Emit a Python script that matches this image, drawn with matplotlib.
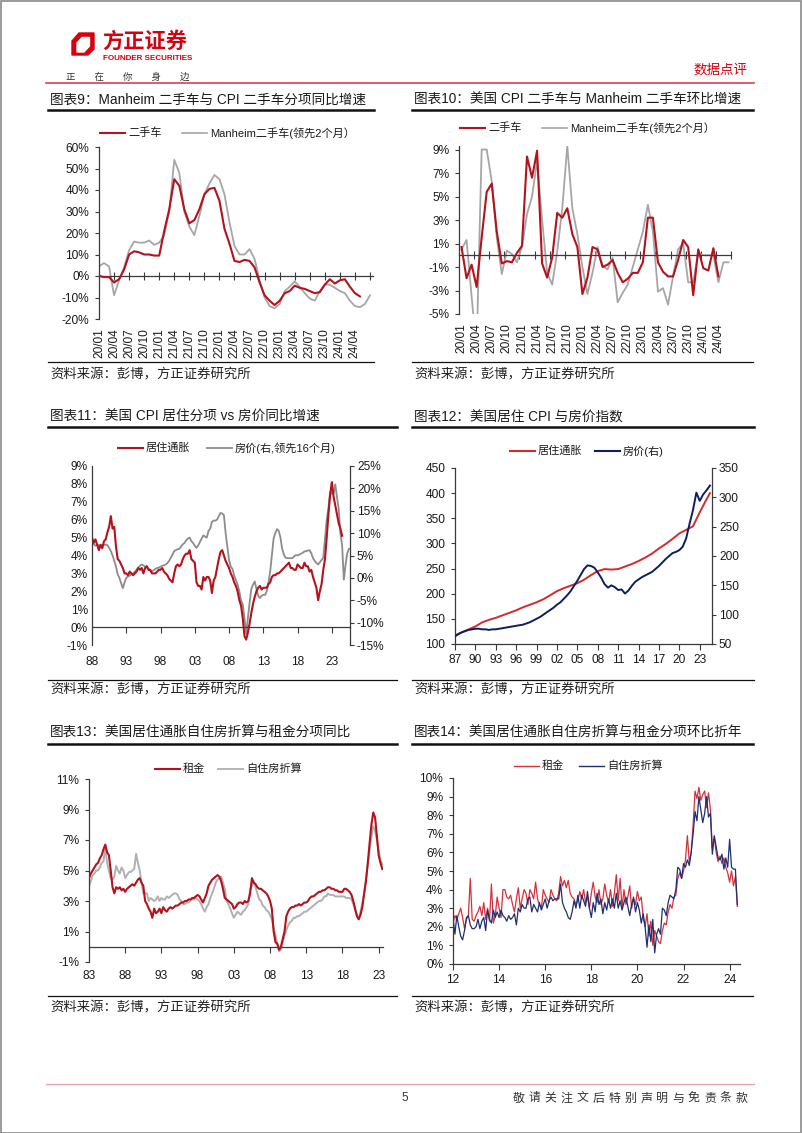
import numpy as np
import matplotlib
matplotlib.use('Agg')
import matplotlib.pyplot as plt
from matplotlib.lines import Line2D
from matplotlib.patches import Polygon, Rectangle
from matplotlib.ticker import FuncFormatter

plt.rcParams['font.family'] = ['Liberation Sans', 'Noto Sans CJK SC']
plt.rcParams['axes.unicode_minus'] = False

# ---------------- data ----------------
# chart 9: used car yoy (%), monthly 20/01 ..
labels9 = ['20/01', '20/04', '20/07', '20/10', '21/01', '21/04', '21/07', '21/10', '22/01',
           '22/04', '22/07', '22/10', '23/01', '23/04', '23/07', '23/10', '24/01', '24/04']
cpi_used_yoy = [0, -0.5, -0.5, -3, -1.5, 3, 10, 11.5, 11, 10, 10, 9.5, 9.5, 21, 31, 45, 42, 31,
                24.5, 26, 31, 38, 40.5, 41, 35, 22, 15, 7, 6.5, 7.5, 7, 4, -3, -9, -11.5, -13.5,
                -11.5, -8, -7, -4.5, -5.5, -6, -7, -8, -7.5, -4, -1.5, -3.5, -2, -1.5, -5, -8, -9.5]
manheim_yoy = [4.5, 6, 4.5, -9, -2, 4, 12, 16, 15.5, 15.5, 16.5, 14.5, 15.5, 19, 30, 54, 48, 30,
               23, 19, 28, 38, 43, 47, 45, 38, 25, 14, 10, 10, 12.5, 8, -2, -10, -14, -15,
               -13, -7, -5, -2.5, -5, -8, -10.5, -11.5, -7, -4, -4, -5.5, -7, -8, -11.5, -14, -14.5,
               -13, -9]

# chart 10: used car mom (%)
labels10 = labels9
cpi_used_mom = [0.7, -1.95, -0.8, -2.7, 1.5, 5.4, 6.1, 2.0, -0.7, -0.5, -0.6, 0.2, 0.8, 8.4, 6.6,
                8.9, -0.7, -1.9, -0.2, 3.6, 3.2, 4.0, 1.8, 0.7, -3.3, -1.9, 0.7, 0.5, -1.0, -0.8,
                -0.4, -1.5, -2.3, -2.0, -1.5, -1.5, -0.6, 3.2, 3.2, -0.6, -1.4, -1.8, -1.8, -0.4,
                1.3, 0.7, -3.4, 0.5, -1.1, -1.3, 0.6, -1.8]
manheim_mom = [0.5, 1.3, -3.5, -8.0, 9.0, 9.0, 6.3, 1.5, -1.6, 0.4, 0.1, -0.6, 0.7, 3.5, 5.0, 8.0,
               3.0, -1.5, -2.5, 0.3, 4.0, 9.3, 4.0, 1.8, -1.0, -3.3, -1.5, 0.7, -0.9, -1.2, -0.2,
               -4.0, -3.2, -2.5, -1.0, 0.5, 2.0, 4.3, 2.0, -3.1, -2.8, -4.2, -1.8, 0.5, 1.0, -2.3,
               -2.3, 0.2, 0.0, 0.0, 0.0, -2.3, -0.6, -0.6]

# chart 11: shelter yoy (left, quarterly from 1988) vs house price yoy (right, lead 16m)
labels11 = ['88', '93', '98', '03', '08', '13', '18', '23']
shelter_yoy = [5.0, 4.7, 4.9, 4.6, 4.3, 4.6, 4.4, 4.8, 4.9, 5.3, 5.6, 6.2, 5.5, 5.6, 4.5, 3.8,
               3.7, 3.5, 3.3, 3.0, 3.0, 2.9, 3.1, 3.0, 2.9, 3.0, 3.1, 3.3, 3.2, 3.3, 3.0, 3.3,
               3.4, 3.2, 3.2, 3.0, 3.0, 3.0, 3.1, 3.2, 3.2, 3.3, 3.1, 3.0, 2.9, 2.7, 2.6, 2.5,
               3.0, 3.4, 3.5, 3.4, 3.5, 3.8, 4.0, 4.1, 4.1, 4.3, 3.8, 3.7, 3.6, 2.5, 2.3, 2.3,
               2.1, 2.8, 2.6, 2.8, 2.8, 2.6, 1.9, 2.6, 2.8, 3.3, 3.8, 4.2, 4.3, 4.0, 3.7, 3.5,
               3.3, 3.0, 2.8, 2.5, 2.3, 2.0, 1.5, 1.2, 0.5, -0.5, -0.7, -0.3, 0.2, 0.8, 1.3, 1.7,
               2.0, 2.2, 2.3, 2.1, 2.2, 2.2, 2.2, 2.4, 2.5, 2.8, 2.9, 2.9, 3.0, 3.0, 3.1, 3.2,
               3.3, 3.4, 3.5, 3.6, 3.3, 3.3, 3.2, 3.2, 3.5, 3.4, 3.3, 3.3, 3.6, 3.4, 3.4, 3.1,
               3.2, 2.8, 2.5, 2.2, 1.5, 2.0, 2.4, 3.2, 3.8, 5.0, 6.3, 7.4, 8.1, 7.3, 6.8, 6.3,
               5.8, 5.5, 5.1]
house_yoy_lead = [7.7, 7.5, 7.2, 7.4, 7.3, 7.0, 7.3, 7.4, 7.4, 7.3, 6.7, 6.0, 5.0, 3.8, 2.5, 0.8,
                  0.0, -1.2, -2.3, -1.0, 0.0, 0.3, 0.5, 0.8, 1.0, 1.4, 1.8, 2.3, 2.7, 3.0, 2.8, 2.5,
                  2.5, 2.0, 1.6, 1.5, 1.7, 2.0, 2.2, 2.3, 2.5, 2.7, 2.8, 3.0, 3.3, 3.8, 4.5, 5.2,
                  6.0, 6.2, 6.4, 6.5, 7.0, 7.5, 7.8, 8.4, 8.8, 9.0, 8.2, 7.8, 7.2, 6.7, 7.3, 8.0,
                  8.8, 9.5, 9.2, 9.0, 10.5, 11.0, 12.5, 12.8, 12.8, 13.0, 13.8, 14.5, 14.4, 14.0, 10.0, 7.0,
                  4.0, 2.5, 2.0, 0.5, -0.5, -1.5, -3.0, -5.0, -6.0, -9.0, -12.5, -9.0, -5.5, -2.5, -1.5, -0.8,
                  -2.5, -4.0, -4.5, -4.0, -3.8, -3.8, -3.0, -1.0, 1.4, 5.0, 8.8, 10.0, 10.9, 10.5, 9.0, 6.5,
                  5.2, 4.5, 4.4, 4.4, 4.4, 4.4, 4.8, 5.1, 5.0, 5.2, 5.4, 5.6, 5.9, 6.0, 6.1, 6.2,
                  5.5, 4.4, 3.8, 3.3, 3.0, 3.5, 4.0, 4.5, 8.8, 13.0, 15.5, 19.2, 18.8, 18.8, 20.9, 18.0,
                  15.5, 10.0, 7.3, -0.4, 2.9, 5.5, 6.5]

# chart 12: shelter CPI index (left) and house price index (right)
labels12 = ['87', '90', '93', '96', '99', '02', '05', '08', '11', '14', '17', '20', '23']
shelter_years = [1987, 1988, 1989, 1990, 1991, 1992, 1993, 1994, 1995, 1996, 1997, 1998, 1999,
                 2000, 2001, 2002, 2003, 2004, 2005, 2006, 2007, 2008, 2009, 2010, 2011, 2012,
                 2013, 2014, 2015, 2016, 2017, 2018, 2019, 2020, 2021, 2022, 2023, 2024, 2024.5]
shelter_idx = [117, 123, 129, 135, 143, 148, 152, 157, 162, 167, 173, 178, 183, 189, 197, 205, 211,
               216, 221, 228, 237, 245, 249, 248, 249, 254, 259, 265, 272, 280, 290, 299, 309, 320,
               327, 334, 362, 388, 400]
house_idx = [63, 67, 70, 72, 74, 75, 76, 76, 75, 75, 74, 75, 75, 76, 77, 78, 79, 80, 81, 82, 83,
             85, 87, 90, 93, 96, 100, 104, 108, 112, 117, 121, 127, 133, 140, 149, 158, 168, 178,
             184, 183, 180, 172, 163, 152, 146, 150, 147, 142, 143, 136, 141, 149, 156, 160, 164,
             167, 170, 173, 178, 183, 189, 195, 200, 205, 207, 210, 216, 230, 255, 278, 308, 294,
             305, 312, 320]

# chart 13: rent vs OER yoy (%), quarterly from 1983
labels13 = ['83', '88', '93', '98', '03', '08', '13', '18', '23']
rent_yoy = [4.5, 4.8, 5.0, 5.2, 5.4, 5.5, 5.8, 6.0, 6.4, 6.7, 6.2, 6.0, 5.0, 3.9, 3.5, 3.9,
            3.8, 3.9, 3.7, 3.8, 3.6, 3.8, 3.9, 4.0, 4.1, 4.0, 4.2, 4.4, 4.5, 4.2, 4.0, 3.0,
            2.8, 2.5, 2.3, 1.9, 2.5, 2.2, 2.3, 2.5, 2.2, 2.6, 2.4, 2.3, 2.5, 2.6, 2.5, 2.6,
            2.7, 2.7, 2.8, 2.9, 2.9, 3.0, 3.0, 3.1, 3.1, 3.2, 3.2, 3.3, 3.4, 3.3, 3.1, 2.9,
            3.2, 3.5, 4.0, 4.2, 4.4, 4.5, 4.6, 4.7, 4.6, 4.3, 3.8, 3.2, 3.1, 3.0, 2.9, 2.8,
            2.5, 2.6, 2.8, 2.9, 2.9, 2.8, 3.0, 2.9, 3.0, 3.5, 4.5, 4.2, 4.1, 3.9, 3.8, 3.8,
            3.7, 3.6, 3.5, 3.3, 3.0, 2.5, 1.0, 0.3, 0.2, -0.2, 0.0, 0.5, 1.0, 2.0, 2.3, 2.5,
            2.6, 2.6, 2.7, 2.7, 2.8, 2.7, 2.8, 2.9, 2.9, 3.0, 3.2, 3.3, 3.3, 3.4, 3.5, 3.6,
            3.6, 3.7, 3.7, 3.8, 3.9, 3.9, 3.8, 3.8, 3.7, 3.7, 3.6, 3.6, 3.6, 3.8, 3.8, 3.7,
            3.6, 3.4, 3.0, 2.5, 2.0, 1.8, 2.1, 2.6, 3.5, 4.3, 5.5, 6.8, 8.0, 8.8, 8.5, 7.3,
            6.0, 5.5, 5.1]
oer_yoy = [4.0, 4.3, 4.7, 4.8, 5.0, 5.0, 5.2, 5.5, 5.6, 6.5, 5.5, 5.0, 4.5, 4.4, 4.6, 5.3,
           5.0, 4.8, 5.2, 5.0, 4.5, 4.7, 4.9, 4.9, 5.0, 5.1, 6.1, 5.5, 5.0, 4.2, 3.5, 3.5,
           3.5, 3.0, 3.2, 3.1, 3.0, 3.1, 3.3, 3.0, 3.2, 3.1, 3.1, 3.3, 3.2, 3.3, 3.4, 3.5,
           3.5, 3.4, 3.1, 3.0, 2.8, 2.8, 2.9, 2.9, 3.0, 3.1, 3.1, 3.2, 3.1, 3.0, 2.8, 2.5,
           2.3, 2.6, 2.8, 3.2, 3.5, 3.8, 4.2, 4.4, 4.5, 4.6, 4.2, 3.8, 3.0, 2.8, 2.5, 2.2,
           1.9, 2.1, 2.3, 2.2, 2.1, 2.3, 2.4, 2.6, 2.8, 3.8, 4.0, 4.3, 3.9, 3.5, 3.1, 3.0,
           2.7, 2.6, 2.4, 2.3, 2.1, 1.8, 1.2, 0.8, 0.2, -0.3, -0.2, 0.3, 0.7, 1.1, 1.4, 1.6,
           1.7, 1.9, 1.9, 2.0, 2.0, 2.1, 2.2, 2.3, 2.3, 2.4, 2.5, 2.6, 2.7, 2.8, 2.9, 3.0,
           3.0, 3.1, 3.3, 3.3, 3.5, 3.4, 3.4, 3.4, 3.3, 3.3, 3.3, 3.3, 3.3, 3.3, 3.2, 3.2,
           3.2, 3.1, 2.8, 2.4, 2.1, 1.8, 2.3, 2.9, 3.5, 4.5, 5.4, 6.3, 7.2, 7.9, 7.6, 7.0,
           6.3, 5.7, 5.4]

# chart 14: rent vs OER mom annualized (%), monthly from 2012/01
labels14 = ['12', '14', '16', '18', '20', '22', '24']
rent_mom_ann = [2.2, 2.6, 2.4, 2.7, 3.0, 2.5, 1.9, 2.4, 2.6, 4.6, 2.4, 2.3,
                2.6, 2.8, 3.1, 2.6, 3.3, 2.4, 3.0, 2.3, 4.3, 2.2, 2.6, 3.6,
                3.0, 2.5, 4.0, 4.0, 3.6, 3.5, 3.7, 3.2, 2.8, 3.5, 4.1, 3.0,
                3.5, 4.0, 3.8, 3.2, 4.0, 3.8, 3.5, 4.4, 3.5, 3.2, 3.0, 4.0,
                3.7, 3.5, 3.3, 4.0, 3.7, 3.5, 3.4, 3.8, 4.7, 4.2, 4.5, 4.1,
                4.5, 3.8, 3.6, 3.5, 3.2, 3.4, 3.9, 3.5, 4.0, 3.3, 3.6, 3.0,
                3.8, 4.4, 3.6, 3.3, 4.0, 3.2, 3.5, 4.3, 3.7, 3.3, 4.0, 3.1,
                3.8, 4.8, 3.4, 4.6, 3.0, 4.0, 3.2, 3.6, 4.2, 3.0, 3.5, 3.2,
                3.9, 3.4, 3.6, 2.5, 2.0, 2.7, 1.5, 2.3, 1.0, 1.8, 1.5, 1.2,
                1.1, 1.8, 2.2, 2.1, 2.8, 3.2, 3.0, 3.6, 3.7, 4.6, 4.9, 4.6,
                5.0, 5.6, 6.9, 5.5, 6.0, 7.5, 9.3, 8.9, 9.5, 8.8, 9.1, 9.3,
                8.4, 9.2, 8.3, 6.2, 6.8, 6.0, 5.5, 5.8, 5.4, 5.7, 5.2, 4.9,
                4.4, 5.0, 4.2, 4.7, 3.1]
oer_mom_ann = [2.5, 1.6, 2.6, 2.0, 1.5, 1.3, 1.8, 2.5, 2.6, 2.1, 1.9, 1.9,
               2.0, 2.4, 1.9, 2.3, 2.5, 1.8, 2.9, 2.4, 2.2, 2.9, 2.5, 2.8,
               2.5, 2.9, 2.6, 2.5, 2.3, 2.6, 2.4, 2.5, 2.7, 2.1, 3.0, 2.8,
               3.2, 3.0, 3.0, 3.5, 3.6, 2.8, 3.2, 3.0, 2.8, 3.3, 2.9, 3.2,
               3.5, 3.0, 3.4, 3.6, 3.4, 3.5, 3.5, 3.5, 4.3, 3.3, 3.0, 2.8,
               2.5, 2.4, 2.8, 3.4, 3.0, 3.7, 3.0, 3.7, 3.4, 3.1, 3.9, 3.0,
               2.5, 3.3, 2.8, 3.8, 3.2, 3.5, 2.7, 3.3, 2.9, 3.5, 3.0, 3.5,
               3.0, 3.8, 3.0, 3.4, 2.9, 3.3, 3.6, 3.1, 2.6, 3.2, 3.6, 2.8,
               3.3, 2.9, 2.2, 2.7, 2.0, 0.9, 2.1, 1.2, 2.4, 0.6, 1.6, 1.9,
               1.6, 3.0, 2.9, 2.6, 3.3, 3.7, 3.6, 3.5, 4.0, 5.2, 5.1, 4.6,
               5.4, 5.2, 5.6, 5.3, 6.0, 7.0, 8.2, 7.7, 9.0, 8.3, 7.6, 8.1,
               9.0, 7.9, 8.1, 5.9, 6.9, 6.3, 5.7, 5.6, 5.9, 5.1, 5.7, 5.2,
               6.7, 5.2, 5.1, 5.1, 3.2]

# ---------------- layout helpers ----------------
W, H = 802, 1133
fig = plt.figure(figsize=(W / 100, H / 100), dpi=100)

RED = '#b4121c'
GRAY = '#a6a6a6'
TXT = '#1a1a1a'
AX = '#3a3a3a'
TICK_FS = 8.6
LEG_FS = 8


def box(l, t, r, b):
    return [l / W, 1 - b / H, (r - l) / W, (b - t) / H]


def hline(x0, x1, y, color, lw):
    fig.add_artist(Line2D([x0 / W, x1 / W], [1 - y / H, 1 - y / H], color=color, lw=lw,
                          transform=fig.transFigure))


def text(x, y, s, **kw):
    kw.setdefault('va', 'center')
    kw.setdefault('color', TXT)
    fig.text(x / W, 1 - y / H, s, **kw)


def legend_item(x, y, color, label, lw=1.5):
    fig.add_artist(Line2D([x / W, (x + 25) / W], [1 - y / H, 1 - y / H], color=color, lw=lw,
                          transform=fig.transFigure))
    text(x + 28, y, label, fontsize=LEG_FS)


def frame(x0, x1, y_title, y_rule, y_rule2, y_src, title):
    text(x0 + 2, y_title, title, fontsize=9.8)
    hline(x0, x1, y_rule, '#111111', 1.8)
    hline(x0, x1, y_rule2, '#111111', 0.9)
    text(x0 + 2, y_src, '资料来源：彭博，方正证券研究所', fontsize=9.6, color='#222222')


pct = FuncFormatter(lambda v, p: f'{v:.0f}%')


def base_style(ax):
    for s in ['top', 'right']:
        ax.spines[s].set_visible(False)
    for s in ['left', 'bottom']:
        ax.spines[s].set_color(AX)
        ax.spines[s].set_linewidth(0.9)
    ax.patch.set_visible(False)
    ax.tick_params(axis='y', direction='out', length=3, width=0.8, color=AX, pad=4,
                   labelsize=TICK_FS, labelcolor=TXT)


def right_style(axr):
    for s in ['top', 'left', 'bottom']:
        axr.spines[s].set_visible(False)
    axr.spines['right'].set_color(AX)
    axr.spines['right'].set_linewidth(0.9)
    axr.tick_params(axis='y', direction='out', length=3, width=0.8, color=AX, pad=2,
                    labelsize=TICK_FS, labelcolor=TXT)


def zero_axis(ax, major, lab_pos, labels, rotate, pad, tick_dir='inout', tick_len=6):
    ax.spines['bottom'].set_position(('data', 0))
    ax.set_xticks(major)
    ax.tick_params(axis='x', direction=tick_dir, length=tick_len, width=0.8, color=AX,
                   labelbottom=False)
    sec = ax.secondary_xaxis('bottom')
    sec.spines['bottom'].set_visible(False)
    sec.set_xticks(lab_pos, labels)
    sec.tick_params(length=0, pad=pad, labelsize=TICK_FS, labelcolor=TXT)
    if rotate:
        plt.setp(sec.get_xticklabels(), rotation=90)
    return sec


# ---------------- page header / footer ----------------
fig.add_artist(Rectangle((0.5 / W, 0.5 / H), (W - 1.5) / W, (H - 1.5) / H, fill=False,
                         edgecolor='#8a8a8a', lw=1.2, transform=fig.transFigure))
logo = [(72, 41), (79, 33), (94, 33), (94, 49), (88, 55), (72, 55)]
fig.add_artist(Polygon([(x / W, 1 - y / H) for x, y in logo], closed=True, color='#d7000f',
                       transform=fig.transFigure))
hole = [(77, 52), (77, 43), (82, 37.5), (89.5, 37.5), (89.5, 46), (84, 52)]
fig.add_artist(Polygon([(x / W, 1 - y / H) for x, y in hole], closed=True, color='white',
                       transform=fig.transFigure))
text(102, 41.5, '方正证券', fontsize=15.3, fontweight='bold', color='#d7000f')
text(103, 59, 'FOUNDER SECURITIES', fontsize=5.8, fontweight='bold', color='#d7000f',
     family=['Liberation Sans Narrow', 'Liberation Sans'])
text(65.5, 77, '\u3000\u3000'.join('正在你身边'), fontsize=6.8, color='#333333',
     family=['Noto Sans CJK SC'])
text(693, 70, '数据点评', fontsize=9.7, color='#d7000f')
hline(46, 754, 83, '#d9414a', 1.2)
hline(46, 754, 1084, '#eca3b3', 1.0)
text(405, 1101, '5', fontsize=8.5, ha='center', va='baseline', color='#333333')
for i, ch in enumerate('敬请关注文后特别声明与免责条款'):
    text(519 + 15.9 * i, 1101.5, ch, fontsize=8.6, ha='center', va='baseline', color='#333333')

# ---------------- chart 9 ----------------
frame(48, 374, 100, 110, 362, 375, '图表9：Manheim 二手车与 CPI 二手车分项同比增速')
legend_item(100, 133, RED, '二手车')
legend_item(182, 133, GRAY, 'Manheim二手车(领先2个月）', lw=1.2)
ax9 = fig.add_axes(box(99, 147, 373, 319))
base_style(ax9)
ax9.plot(np.arange(len(manheim_yoy)), manheim_yoy, color=GRAY, lw=1.3, zorder=2)
ax9.plot(np.arange(len(cpi_used_yoy)), cpi_used_yoy, color=RED, lw=1.5, zorder=3)
ax9.set_xlim(0, 54.6)
ax9.set_ylim(-20, 60)
ax9.set_yticks(range(-20, 61, 10))
ax9.yaxis.set_major_formatter(pct)
zero_axis(ax9, range(0, 55, 3), range(0, 52, 3), labels9, True, 7)

# ---------------- chart 10 ----------------
frame(412, 753, 100, 110, 362, 375, '图表10：美国 CPI 二手车与 Manheim 二手车环比增速')
legend_item(460, 128, RED, '二手车')
legend_item(542, 128, GRAY, 'Manheim二手车(领先2个月）', lw=1.2)
ax10 = fig.add_axes(box(459, 146, 731, 314))
base_style(ax10)
ax10.plot(np.arange(len(manheim_mom)), manheim_mom, color=GRAY, lw=1.3, zorder=2)
ax10.plot(np.arange(len(cpi_used_mom)), cpi_used_mom, color=RED, lw=1.5, zorder=3)
ax10.set_xlim(-0.5, 53.5)
ax10.set_ylim(-5, 9.3)
ax10.set_yticks(range(-5, 10, 2))
ax10.yaxis.set_major_formatter(pct)
zero_axis(ax10, np.arange(2.5, 54, 3), range(0, 52, 3), labels10, True, 7)

# ---------------- chart 11 ----------------
frame(48, 397, 417, 427, 680, 690, '图表11：美国 CPI 居住分项 vs 房价同比增速')
legend_item(118, 448, RED, '居住通胀')
legend_item(207, 448, '#8c8c8c', '房价(右,领先16个月)', lw=1.3)
ax11 = fig.add_axes(box(92, 466, 350, 645))
ax11r = ax11.twinx()
base_style(ax11)
ax11.tick_params(axis='y', length=0, pad=3)
x11a = 1988 + np.arange(len(shelter_yoy)) / 4
x11b = 1988 + np.arange(len(house_yoy_lead)) / 4
ax11r.plot(x11b, house_yoy_lead, color='#8c8c8c', lw=1.3)
ax11.plot(x11a, shelter_yoy, color=RED, lw=1.5)
ax11.set_zorder(ax11r.get_zorder() + 1)
ax11.set_xlim(1988, 2025.65)
ax11.set_ylim(-1, 9)
ax11.set_yticks(range(-1, 10))
ax11.yaxis.set_major_formatter(pct)
ax11r.set_ylim(-15, 25)
ax11r.set_yticks(range(-15, 26, 5))
ax11r.yaxis.set_major_formatter(pct)
right_style(ax11r)
zero_axis(ax11, range(1993, 2024, 5), range(1988, 2024, 5), labels11, False, 8,
          tick_dir='out', tick_len=4)

# ---------------- chart 12 ----------------
frame(412, 754, 417, 427, 680, 690, '图表12：美国居住 CPI 与房价指数')
legend_item(510, 451, '#d42a2d', '居住通胀')
legend_item(595, 451, '#0d1f5c', '房价(右)')
ax12 = fig.add_axes(box(455, 468, 712, 644))
ax12r = ax12.twinx()
base_style(ax12)
ax12.plot(shelter_years, shelter_idx, color='#d42a2d', lw=1.4)
ax12r.plot(1987 + np.arange(len(house_idx)) / 2, house_idx, color='#0d1f5c', lw=1.4)
ax12.set_xlim(1987, 2024.8)
ax12.set_ylim(100, 450)
ax12.set_yticks(range(100, 451, 50))
ax12r.set_ylim(50, 350)
ax12r.set_yticks(range(50, 351, 50))
right_style(ax12r)
ax12.set_xticks(range(1987, 2024, 3), labels12)
ax12.tick_params(axis='x', direction='out', length=4, width=0.8, color=AX, pad=3,
                 labelsize=TICK_FS, labelcolor=TXT)

# ---------------- chart 13 ----------------
frame(48, 397, 733, 744, 996, 1008, '图表13：美国居住通胀自住房折算与租金分项同比')
legend_item(155, 769, RED, '租金')
legend_item(218, 769, '#b0b0b0', '自住房折算', lw=1.3)
ax13 = fig.add_axes(box(89, 779, 383, 962))
base_style(ax13)
x13 = 1983 + np.arange(len(rent_yoy)) / 4
ax13.plot(x13, oer_yoy, color='#b0b0b0', lw=1.4, zorder=2)
ax13.plot(x13, rent_yoy, color=RED, lw=1.5, zorder=3)
ax13.set_xlim(1983, 2023.6)
ax13.set_ylim(-1, 11)
ax13.set_yticks(range(-1, 12, 2))
ax13.yaxis.set_major_formatter(pct)
zero_axis(ax13, range(1988, 2024, 5), range(1983, 2024, 5), labels13, False, 6,
          tick_dir='out', tick_len=4)

# ---------------- chart 14 ----------------
frame(412, 753, 733, 744, 996, 1008, '图表14：美国居住通胀自住房折算与租金分项环比折年')
legend_item(514, 766, '#d5303d', '租金', lw=1.0)
legend_item(579, 766, '#1e3070', '自住房折算', lw=1.0)
ax14 = fig.add_axes(box(453, 778, 740, 964))
base_style(ax14)
x14 = 2012 + np.arange(len(rent_mom_ann)) / 12
ax14.plot(x14, rent_mom_ann, color='#d5303d', lw=0.9)
ax14.plot(x14, oer_mom_ann, color='#1e3070', lw=0.9)
ax14.set_xlim(2012, 2024.45)
ax14.set_ylim(0, 10)
ax14.set_yticks(range(0, 11))
ax14.yaxis.set_major_formatter(pct)
ax14.set_xticks(range(2012, 2025, 2), labels14)
ax14.tick_params(axis='x', direction='out', length=4, width=0.8, color=AX, pad=3,
                 labelsize=TICK_FS, labelcolor=TXT)

fig.savefig('out.png', dpi=100)
